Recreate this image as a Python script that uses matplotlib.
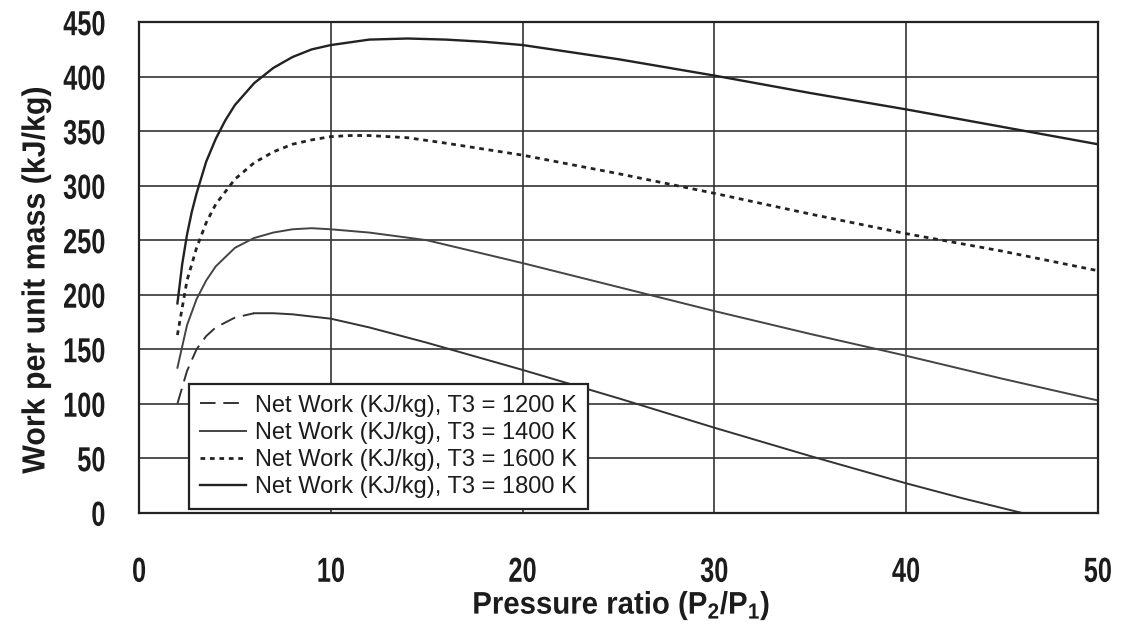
import matplotlib.pyplot as plt
from matplotlib.patheffects import AbstractPathEffect
from matplotlib.transforms import Affine2D

# pressure ratio P2/P1 and net work (kJ/kg) for each turbine inlet temperature
pr_1200 = [2.0, 2.5, 3.0, 3.5, 4.0, 5.0, 6.0, 7.0, 8.0, 10.0, 12.0, 15.0, 20.0, 25.0, 30.0, 35.0, 40.0, 43.0, 46.0]
w_1200 = [100, 130, 150, 162, 170, 179, 183, 183, 182, 178, 170, 156, 131, 105, 78, 52, 27, 13, 0]

pr_1400 = [2.0, 2.5, 3.0, 3.5, 4.0, 5.0, 6.0, 7.0, 8.0, 9.0, 10.0, 12.0, 15.0, 20.0, 25.0, 30.0, 35.0, 40.0, 45.0, 50.0]
w_1400 = [133, 172, 196, 213, 226, 243, 252, 257, 260, 261, 260, 257, 250, 229, 207, 185, 164, 144, 123, 103]

pr_1600 = [2.0, 2.5, 3.0, 3.5, 4.0, 5.0, 6.0, 7.0, 8.0, 9.0, 10.0, 11.0, 12.0, 14.0, 16.0, 20.0, 25.0, 30.0, 35.0, 40.0, 45.0, 50.0]
w_1600 = [163, 213, 243, 266, 283, 306, 321, 331, 338, 342, 345, 346, 346, 344, 339, 328, 311, 293, 274, 256, 240, 222]

pr_1800 = [2.0, 2.25, 2.5, 2.75, 3.0, 3.5, 4.0, 4.5, 5.0, 6.0, 7.0, 8.0, 9.0, 10.0, 12.0, 14.0, 16.0, 18.0, 20.0, 25.0, 30.0, 35.0, 40.0, 45.0, 50.0]
w_1800 = [192, 228, 255, 276, 293, 322, 343, 360, 374, 394, 408, 418, 425, 429, 434, 435, 434, 432, 429, 416, 401, 385, 370, 354, 338]

labels = ["Net Work (KJ/kg), T3 = 1200 K", "Net Work (KJ/kg), T3 = 1400 K",
          "Net Work (KJ/kg), T3 = 1600 K", "Net Work (KJ/kg), T3 = 1800 K"]


class Squeeze(AbstractPathEffect):
    """Draw text narrower than the font, keeping one edge (or the middle) in place."""

    def __init__(self, sx, anchor="center"):
        super().__init__()
        self.sx = sx
        self.anchor = anchor

    def draw_path(self, renderer, gc, tpath, affine, rgbFace=None):
        ext = tpath.get_extents()
        x0 = {"left": ext.x0, "center": 0.5 * (ext.x0 + ext.x1), "right": ext.x1}[self.anchor]
        t = Affine2D().translate(-x0, 0).scale(self.sx, 1).translate(x0, 0) + affine
        renderer.draw_path(gc, tpath, t, rgbFace)


plt.rcParams["font.family"] = ["Liberation Sans", "DejaVu Sans"]
plt.rcParams["mathtext.default"] = "regular"
ink = "#1c1c1c"

fig, ax = plt.subplots(figsize=(11.26, 6.33), dpi=100)
fig.subplots_adjust(left=0.1235, right=0.975, top=0.965, bottom=0.19)

# the 1200 K curve is dashed only on its rising part
k = pr_1200.index(6.0)
ax.plot(pr_1200[:k + 1], w_1200[:k + 1], color="#333333", lw=1.4, dashes=(8, 4), label=labels[0])
ax.plot(pr_1200[k:], w_1200[k:], color="#333333", lw=1.4)
ax.plot(pr_1400, w_1400, color="#444444", lw=1.4, label=labels[1])
ax.plot(pr_1600, w_1600, color="#222222", lw=2.0, dashes=(1.7, 1.7), label=labels[2])
ax.plot(pr_1800, w_1800, color="#222222", lw=1.7, label=labels[3])

ax.set_xlim(0, 50)
ax.set_ylim(0, 450)
ax.set_xticks(range(0, 51, 10))
ax.set_yticks(range(0, 451, 50))
ax.grid(True, color="#333333", lw=1.2)
ax.set_axisbelow(True)
for s in ax.spines.values():
    s.set_linewidth(1.6)
    s.set_color("#222222")

ax.tick_params(axis="x", length=0, pad=31, labelsize=25, labelcolor=ink)
ax.tick_params(axis="y", length=0, pad=24, labelsize=25, labelcolor=ink)
for t in ax.get_xticklabels():
    t.set_fontweight("bold")
    t.set_path_effects([Squeeze(0.73, "center")])
for t in ax.get_yticklabels():
    t.set_fontweight("bold")
    t.set_path_effects([Squeeze(0.73, "right")])

ax.set_xlabel(r"Pressure ratio (P$_2$/P$_1$)", fontsize=22.5, fontweight="bold", color=ink,
              va="baseline", path_effects=[Squeeze(0.94)])
ax.xaxis.set_label_coords(0.503, -0.206)
ax.set_ylabel("Work per unit mass (kJ/kg)", fontsize=23, fontweight="bold", color=ink,
              va="center", path_effects=[Squeeze(0.95)])
ax.yaxis.set_label_coords(-0.107, 0.4745)

leg = ax.legend(loc="lower left", bbox_to_anchor=(0.052, 0.008), fontsize=17, frameon=True,
                fancybox=False, handlelength=1.95, handletextpad=0.4, borderpad=0.45,
                labelspacing=0.22, borderaxespad=0)
leg.get_frame().set_edgecolor("#222222")
leg.get_frame().set_linewidth(1.6)
leg.get_frame().set_alpha(1)
for t in leg.get_texts():
    t.set_color(ink)

fig.savefig("out.png", dpi=100)
